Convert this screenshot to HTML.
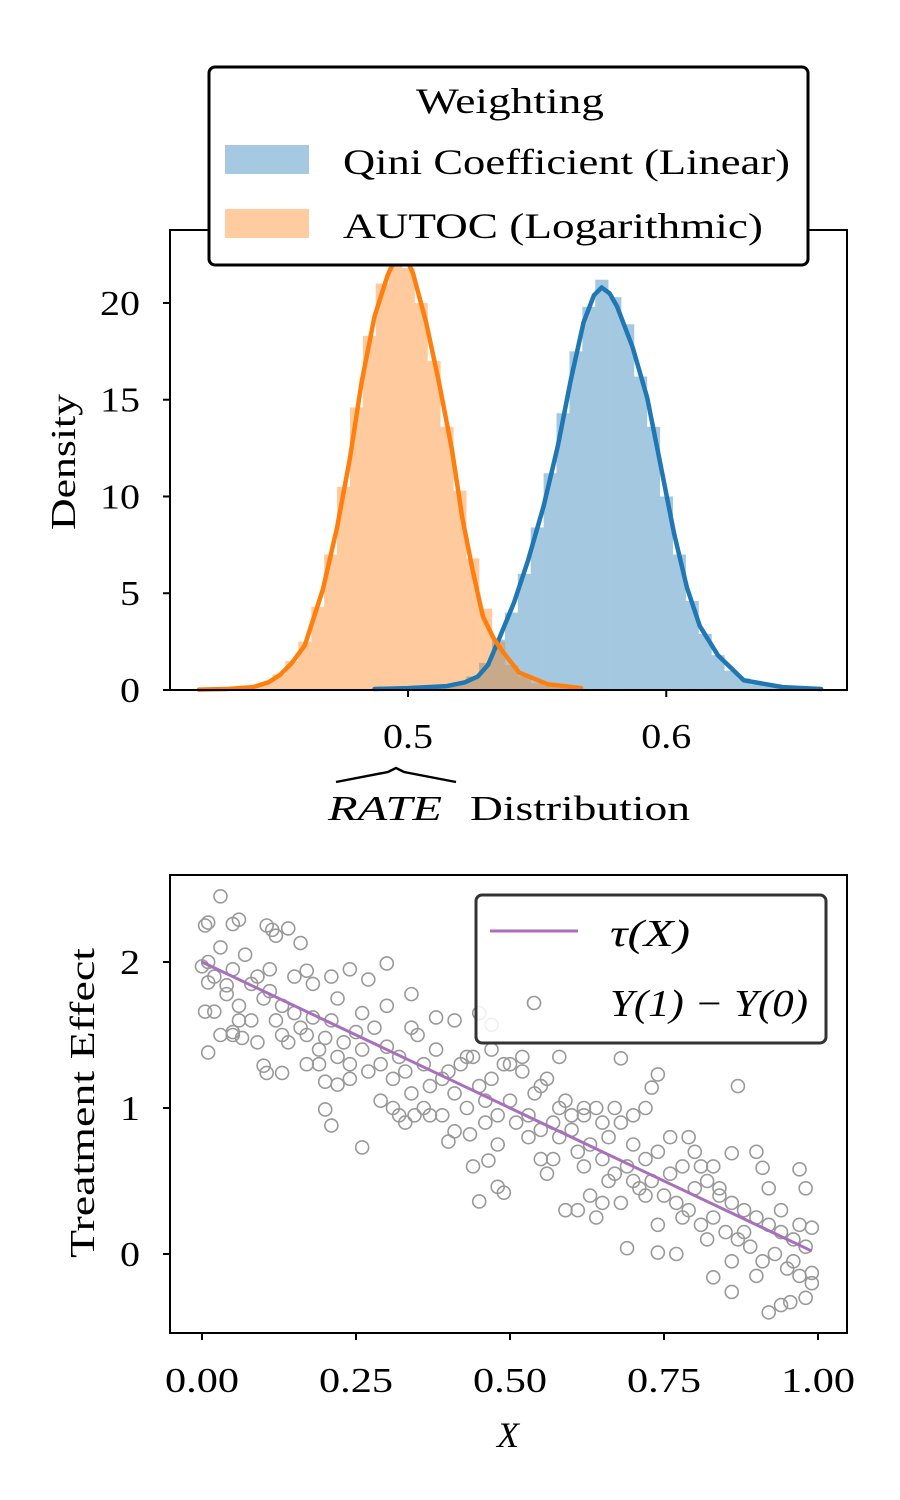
<!DOCTYPE html>
<html><head><meta charset="utf-8">
<style>
html,body{margin:0;padding:0;background:#fff;}
svg{display:block;}
text{font-family:"Liberation Serif","DejaVu Serif",serif;fill:#000;}
</style></head>
<body>
<svg id="fig" width="900" height="1500" viewBox="0 0 900 1500" xmlns="http://www.w3.org/2000/svg">
  <g id="topchart"></g>
  <g id="botchart"></g>
</svg>
<script>
// ---------- Top chart data ----------
const blueBins = [0.49,0.495,0.5,0.505,0.51,0.515,0.52,0.525,0.53,0.535,0.54,0.545,0.55,0.555,0.56,0.565,0.57,0.575,0.58,0.585,0.59,0.595,0.6,0.605,0.61,0.615,0.62,0.625,0.63,0.635,0.64,0.645,0.65,0.655,0.66];
const blueHist = [0.1,0.1,0.1,0.15,0.2,0.25,0.4,0.7,1.4,2.6,4.0,6.0,8.4,11.2,14.3,17.5,19.8,21.2,20.3,18.9,16.2,13.6,10.0,7.0,4.6,2.9,1.8,1.0,0.6,0.3,0.2,0.15,0.1,0.05,0.05];
const orangeBins = [0.42,0.425,0.43,0.435,0.44,0.445,0.45,0.455,0.46,0.465,0.47,0.475,0.48,0.485,0.49,0.495,0.5,0.505,0.51,0.515,0.52,0.525,0.53,0.535,0.54,0.545,0.55,0.555,0.56,0.565,0.57];
const orangeHist = [0.05,0.05,0.1,0.1,0.2,0.4,0.8,1.5,2.5,4.3,7.0,10.5,14.6,18.3,21.0,22.5,21.8,20.0,17.0,13.6,10.3,6.8,4.2,2.5,1.3,0.7,0.35,0.2,0.1,0.05,0.05];
const blueKdeX = [0.487,0.5,0.515,0.522,0.527,0.531,0.5345,0.541,0.5465,0.5525,0.558,0.563,0.568,0.572,0.575,0.578,0.581,0.587,0.5926,0.5977,0.603,0.608,0.613,0.62,0.63,0.645,0.66];
const blueKdeY = [0.05,0.1,0.2,0.4,0.7,1.3,2.4,4.5,6.7,9.5,12.6,16.0,19.0,20.4,20.8,20.5,19.8,17.7,15.1,11.7,8.1,5.3,3.3,1.8,0.5,0.15,0.05];
const orangeKdeX = [0.419,0.43,0.44,0.446,0.4504,0.455,0.46,0.467,0.4725,0.4775,0.482,0.487,0.492,0.495,0.497,0.499,0.502,0.507,0.512,0.517,0.521,0.525,0.529,0.533,0.536,0.543,0.554,0.567];
const orangeKdeY = [0.02,0.05,0.15,0.4,0.78,1.4,2.3,5.2,8.4,12.0,15.9,19.3,21.4,22.3,22.6,22.4,21.5,19.0,15.9,12.4,8.9,6.2,3.8,2.7,2.1,0.9,0.3,0.1];
const topYTicks = [0,5,10,15,20];
const topXTicks = [0.5,0.6];

// ---------- Bottom chart data ----------
const scatterX = [0.03,0.005,0.01,0.05,0.06,0.105,0.114,0.12,0.14,0.16,0.30,0.24,0.17,0.21,0.27,0.34,0.0,0.01,0.04,0.005,0.02,0.01,0.03,0.05,0.065,0.1,0.105,0.13,0.17,0.2,0.22,0.2,0.21,0.26,0.31,0.33,0.345,0.37,0.39,0.40,0.41,0.435,0.44,0.465,0.45,0.48,0.49,0.45,0.47,0.54,0.58,0.68,0.74,0.73,0.87,0.97,0.86,0.9,0.91,0.69,0.74,0.77,0.83,0.86,0.92,0.94,0.955,0.98,0.99,0.99,0.98,
0.01,0.02,0.03,0.04,0.05,0.06,0.07,0.08,0.09,0.1,0.11,0.12,0.13,0.14,0.15,0.16,0.17,0.18,0.19,0.2,0.21,0.22,0.23,0.24,0.25,0.26,0.27,0.28,0.29,0.3,0.31,0.32,0.33,0.34,0.35,0.36,0.37,0.38,0.39,0.4,0.41,0.42,0.43,0.44,0.45,0.46,0.47,0.48,0.49,0.5,0.51,0.52,0.53,0.54,0.55,0.56,0.57,0.58,0.59,0.6,0.61,0.62,0.63,0.64,0.65,0.66,0.67,0.68,0.69,0.7,0.71,0.72,0.73,0.74,0.75,0.76,0.77,0.78,0.79,0.8,0.81,0.82,0.83,0.84,0.85,0.86,0.87,0.88,0.89,0.9,0.91,0.92,0.93,0.94,0.95,0.96,0.97,0.98,0.99,
0.05,0.08,0.11,0.15,0.18,0.22,0.26,0.3,0.34,0.38,0.41,0.43,0.47,0.5,0.52,0.55,0.58,0.6,0.62,0.63,0.65,0.66,0.68,0.7,0.72,0.74,0.76,0.78,0.8,0.82,0.84,0.86,0.88,0.9,0.92,0.94,0.96,0.97,0.62,0.65,0.67,0.7,0.72,0.79,0.81,0.83,0.56,0.57,0.59,0.61,0.64,0.53,0.55,0.48,0.46,0.36,0.32,0.29,0.24,0.19,0.13,0.09,0.06];
const scatterY = [2.45,2.25,2.27,2.26,2.29,2.25,2.22,2.18,2.23,2.13,1.99,1.95,1.94,1.90,1.88,1.78,1.97,1.86,1.84,1.66,1.66,1.38,1.5,1.5,1.48,1.29,1.24,1.24,1.3,1.18,1.16,0.99,0.88,0.73,1.0,0.9,0.95,0.95,0.95,0.77,0.84,0.82,0.6,0.64,0.36,0.46,0.42,1.65,1.57,1.72,1.35,1.34,1.23,1.14,1.15,0.58,0.69,0.7,0.59,0.04,0.01,0.0,-0.16,-0.26,-0.4,-0.35,-0.33,-0.3,-0.13,0.18,0.45,
2.0,1.9,2.1,1.78,1.95,1.7,2.05,1.85,1.9,1.75,1.8,1.6,1.7,1.45,1.65,1.55,1.5,1.62,1.4,1.48,1.6,1.35,1.45,1.3,1.52,1.4,1.25,1.55,1.3,1.42,1.2,1.35,1.25,1.1,1.5,1.3,1.15,1.4,1.2,1.25,1.1,1.3,1.0,1.35,1.15,1.05,1.2,0.95,1.3,1.05,0.9,1.25,0.95,1.1,0.85,1.2,0.9,0.8,1.05,0.85,0.7,0.95,0.75,1.0,0.65,0.8,0.55,0.9,0.6,0.75,0.45,0.65,0.5,0.7,0.4,0.55,0.35,0.6,0.3,0.45,0.2,0.5,0.25,0.4,0.15,0.35,0.1,0.3,0.05,0.25,-0.05,0.2,0.0,0.15,-0.1,0.1,-0.15,0.05,-0.2,
1.52,1.6,1.95,1.9,1.85,1.75,1.65,1.7,1.55,1.62,1.6,1.35,1.4,1.3,1.35,1.15,1.0,0.95,0.6,0.4,0.35,0.5,0.35,0.5,0.4,0.2,0.8,0.25,0.7,0.1,0.45,-0.05,0.15,-0.15,0.45,0.3,-0.05,0.2,1.0,0.9,1.0,0.95,1.0,0.8,0.6,0.6,0.55,0.65,0.3,0.3,0.25,0.8,0.65,0.75,0.9,1.0,0.95,1.05,1.2,1.3,1.5,1.45,1.6];
const tauX = [0.0,0.99];
const tauY = [2.0,0.02];
const botXTicks = [0.0,0.25,0.5,0.75,1.0];
const botXTickLabels = ["0.00","0.25","0.50","0.75","1.00"];
const botYTicks = [0,1,2];

const NS = "http://www.w3.org/2000/svg";
function mk(parent, tag, attrs, txt){
  const e = document.createElementNS(NS, tag);
  for (const k in attrs) e.setAttribute(k, attrs[k]);
  if (txt !== undefined) e.textContent = txt;
  parent.appendChild(e);
  return e;
}
const FIT = 'spacingAndGlyphs';

// ---------- Top chart ----------
const topG = document.getElementById('topchart');
const tL=170,tR=847,tT=230,tB=690;
const txmin=0.4078,txmax=0.670,tymax=23.77;
const tx = v => tL + (v - txmin)/(txmax - txmin)*(tR - tL);
const ty = v => tB - v/tymax*(tB - tT);
const binW = 0.005;

function drawHist(bins, vals, color, name){
  const g = mk(topG,'g',{opacity:0.4});
  
  
  for (let i=0;i<bins.length;i++){
    const x0 = tx(bins[i]-binW/2), x1 = tx(bins[i]+binW/2);
    const r = mk(g,'rect',{x:x0,y:ty(vals[i]),width:x1-x0+0.3,height:tB-ty(vals[i]),fill:color});
    
    
  }
}
drawHist(blueBins, blueHist, '#1f77b4', 'qini-histogram');
drawHist(orangeBins, orangeHist, '#ff7f0e', 'autoc-histogram');

function drawKde(xs, ys, color, name){
  let d='';
  for (let i=0;i<xs.length;i++) d += (i?'L':'M') + tx(xs[i]).toFixed(1) + ' ' + ty(ys[i]).toFixed(1);
  const p = mk(topG,'path',{d:d,fill:'none',stroke:color,'stroke-width':4.5,'stroke-linejoin':'round','stroke-linecap':'round'});
  
  
}
drawKde(blueKdeX, blueKdeY, '#1f77b4', 'qini-kde-line');
drawKde(orangeKdeX, orangeKdeY, '#ff7f0e', 'autoc-kde-line');

const tFrame = mk(topG,'rect',{x:tL,y:tT,width:tR-tL,height:tB-tT,fill:'none',stroke:'#000','stroke-width':2});


topYTicks.forEach(v=>{
  const y = ty(v);
  mk(topG,'line',{x1:tL-7,x2:tL,y1:y,y2:y,stroke:'#000','stroke-width':2});
  const s = String(v);
  const t = mk(topG,'text',{x:tL-30,y:y+12,'font-size':35,'text-anchor':'end',textLength:s.length*20,lengthAdjust:FIT},s);
  
  
});
topXTicks.forEach(v=>{
  const x = tx(v);
  mk(topG,'line',{x1:x,x2:x,y1:tB,y2:tB+7,stroke:'#000','stroke-width':2});
  const t = mk(topG,'text',{x:x,y:tB+58,'font-size':35,'text-anchor':'middle',textLength:50,lengthAdjust:FIT},String(v));
  
  
});
const yl = mk(topG,'text',{x:0,y:0,'font-size':35,'text-anchor':'middle',textLength:136,lengthAdjust:FIT,transform:'translate(75,462) rotate(-90)'},'Density');


const xlg = mk(topG,'g',{});


mk(xlg,'text',{x:328,y:820,'font-size':35,'font-style':'italic',textLength:114,lengthAdjust:FIT},'RATE');
mk(xlg,'path',{d:'M336 782 L388 772 L396 768 L404 772 L456 782',fill:'none',stroke:'#000','stroke-width':2.4});
mk(xlg,'text',{x:470,y:820,'font-size':35,textLength:220,lengthAdjust:FIT},'Distribution');

// top legend
const lg = mk(topG,'g',{});


mk(lg,'rect',{x:209,y:67,width:599,height:198,rx:6,fill:'#fff',stroke:'#000','stroke-width':3});
mk(lg,'text',{x:416,y:113,'font-size':36,textLength:188,lengthAdjust:FIT},'Weighting');
const le1 = mk(lg,'g',{});


mk(le1,'rect',{x:225,y:145,width:84,height:29,fill:'#1f77b4',opacity:0.4});
mk(le1,'text',{x:343,y:174,'font-size':36,textLength:447,lengthAdjust:FIT},'Qini Coefficient (Linear)');
const le2 = mk(lg,'g',{});


mk(le2,'rect',{x:225,y:209,width:84,height:29,fill:'#ff7f0e',opacity:0.4});
mk(le2,'text',{x:343,y:238,'font-size':36,textLength:420,lengthAdjust:FIT},'AUTOC (Logarithmic)');

// ---------- Bottom chart ----------
const botG = document.getElementById('botchart');
const bL=170,bR=847,bT=875,bB=1333;
const bx = v => 202 + v*616;
const by = v => 1254 - v*146;

const pts = mk(botG,'g',{});


for (let i=0;i<scatterX.length;i++){
  const c = mk(pts,'circle',{cx:bx(scatterX[i]),cy:by(scatterY[i]),r:6.5,fill:'none',stroke:'#999','stroke-width':1.6});
  
  
}
const tl = mk(botG,'line',{x1:bx(tauX[0]),y1:by(tauY[0]),x2:bx(tauX[1]),y2:by(tauY[1]),stroke:'#a86fbc','stroke-width':3});



const bFrame = mk(botG,'rect',{x:bL,y:bT,width:bR-bL,height:bB-bT,fill:'none',stroke:'#000','stroke-width':2});


botYTicks.forEach(v=>{
  const y = by(v);
  mk(botG,'line',{x1:bL-7,x2:bL,y1:y,y2:y,stroke:'#000','stroke-width':2});
  const t = mk(botG,'text',{x:bL-30,y:y+12,'font-size':35,'text-anchor':'end',textLength:20,lengthAdjust:FIT},String(v));
  
  
});
botXTicks.forEach((v,i)=>{
  const x = bx(v);
  mk(botG,'line',{x1:x,x2:x,y1:bB,y2:bB+7,stroke:'#000','stroke-width':2});
  const t = mk(botG,'text',{x:x,y:bB+59,'font-size':35,'text-anchor':'middle',textLength:74,lengthAdjust:FIT},botXTickLabels[i]);
  
  
});
const byl = mk(botG,'text',{x:0,y:0,'font-size':35,'text-anchor':'middle',textLength:310,lengthAdjust:FIT,transform:'translate(94,1103) rotate(-90)'},'Treatment Effect');


const bxl = mk(botG,'text',{x:508,y:1447,'font-size':36,'font-style':'italic','text-anchor':'middle'},'X');



const bl = mk(botG,'g',{});


mk(bl,'rect',{x:476,y:895,width:350,height:148,rx:6,fill:'#fff','fill-opacity':0.85,stroke:'#333','stroke-width':3});
const b1 = mk(bl,'g',{});


mk(b1,'line',{x1:490,x2:578,y1:931,y2:931,stroke:'#a86fbc','stroke-width':3});
mk(b1,'text',{x:610,y:946,'font-size':38,'font-style':'italic',textLength:80,lengthAdjust:FIT},'τ(X)');
const b2 = mk(bl,'g',{});


mk(b2,'circle',{cx:534,cy:1003,r:6.5,fill:'none',stroke:'#999','stroke-width':1.6});
mk(b2,'text',{x:610,y:1016,'font-size':38,'font-style':'italic',textLength:198,lengthAdjust:FIT},'Y(1) − Y(0)');
</script>
</body></html>
